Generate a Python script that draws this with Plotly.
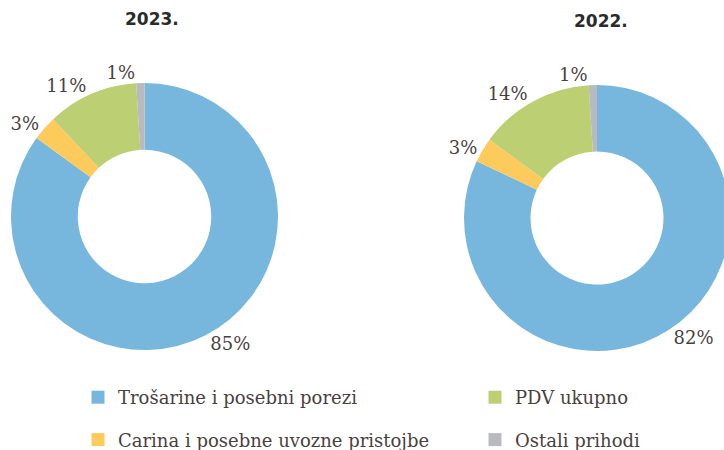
import plotly.graph_objects as go

categories = ["Trošarine i posebni porezi", "Carina i posebne uvozne pristojbe", "PDV ukupno", "Ostali prihodi"]
values_2023 = [85, 3, 11, 1]
values_2022 = [82, 3, 14, 1]
years = ["2023.", "2022."]
colors = ["#77b7de", "#fdca5c", "#bccf72", "#b9babf"]

label_font = dict(family="DejaVu Serif", size=18, color="#4a3f3f")
legend_font = dict(family="DejaVu Serif", size=18, color="#4a3f3f")

# figure is a little wider than the 724px window so the right donut is cut at the edge
W, H = 740, 450

fig = go.Figure()

domains = [
    dict(x=[11 / W, 278 / W], y=[1 - 350 / H, 1 - 83 / H]),
    dict(x=[464 / W, 730 / W], y=[1 - 351 / H, 1 - 85 / H]),
]

pct = "%{percent:.0%}"
for vals, dom in zip([values_2023, values_2022], domains):
    # main donut (labels of the three larger slices)
    fig.add_trace(go.Pie(
        labels=categories, values=vals, hole=0.5, sort=False, direction="clockwise",
        rotation=0, marker=dict(colors=colors, line=dict(width=0)),
        textposition="outside", texttemplate=[pct, pct, pct, ""],
        outsidetextfont=label_font, domain=dom, showlegend=False,
        hoverinfo="label+percent",
    ))
    # transparent overlay carrying the small slice label
    fig.add_trace(go.Pie(
        labels=categories, values=vals, hole=0.5, sort=False, direction="clockwise",
        rotation=0, marker=dict(colors=["rgba(0,0,0,0)"] * 4, line=dict(width=0)),
        textposition="outside", texttemplate=["", "", "", pct],
        outsidetextfont=label_font, domain=dom, showlegend=False,
        hoverinfo="skip",
    ))

# legend entries (two columns)
legend_order = [(0, "legend"), (1, "legend"), (2, "legend2"), (3, "legend2")]
for idx, lg in legend_order:
    fig.add_trace(go.Scatter(
        x=[None], y=[None], mode="markers", name=categories[idx],
        marker=dict(symbol="square", size=13, color=colors[idx]),
        legend=lg, legendgroup=categories[idx], showlegend=True,
    ))

leg_common = dict(orientation="v", yanchor="bottom", xanchor="left", font=legend_font,
                  tracegroupgap=16, bgcolor="rgba(0,0,0,0)", itemclick=False, y=-8 / H)

title_font = dict(family="DejaVu Sans", size=17, color="#2b2b2b")
fig.update_layout(
    width=W, height=H,
    margin=dict(l=0, r=0, t=0, b=0, autoexpand=False),
    paper_bgcolor="white", plot_bgcolor="white",
    xaxis=dict(visible=False), yaxis=dict(visible=False),
    legend=dict(x=78 / W, **leg_common),
    legend2=dict(x=475 / W, **leg_common),
    annotations=[
        dict(text="<b>" + years[0] + "</b>", x=152 / W, y=1 - 19 / H, xref="paper", yref="paper",
             xanchor="center", yanchor="middle", showarrow=False, font=title_font),
        dict(text="<b>" + years[1] + "</b>", x=601 / W, y=1 - 21 / H, xref="paper", yref="paper",
             xanchor="center", yanchor="middle", showarrow=False, font=title_font),
    ],
)

fig.write_html("out.html", config={"displayModeBar": False},
               post_script="document.body.style.margin='0';document.body.style.overflow='hidden';")
